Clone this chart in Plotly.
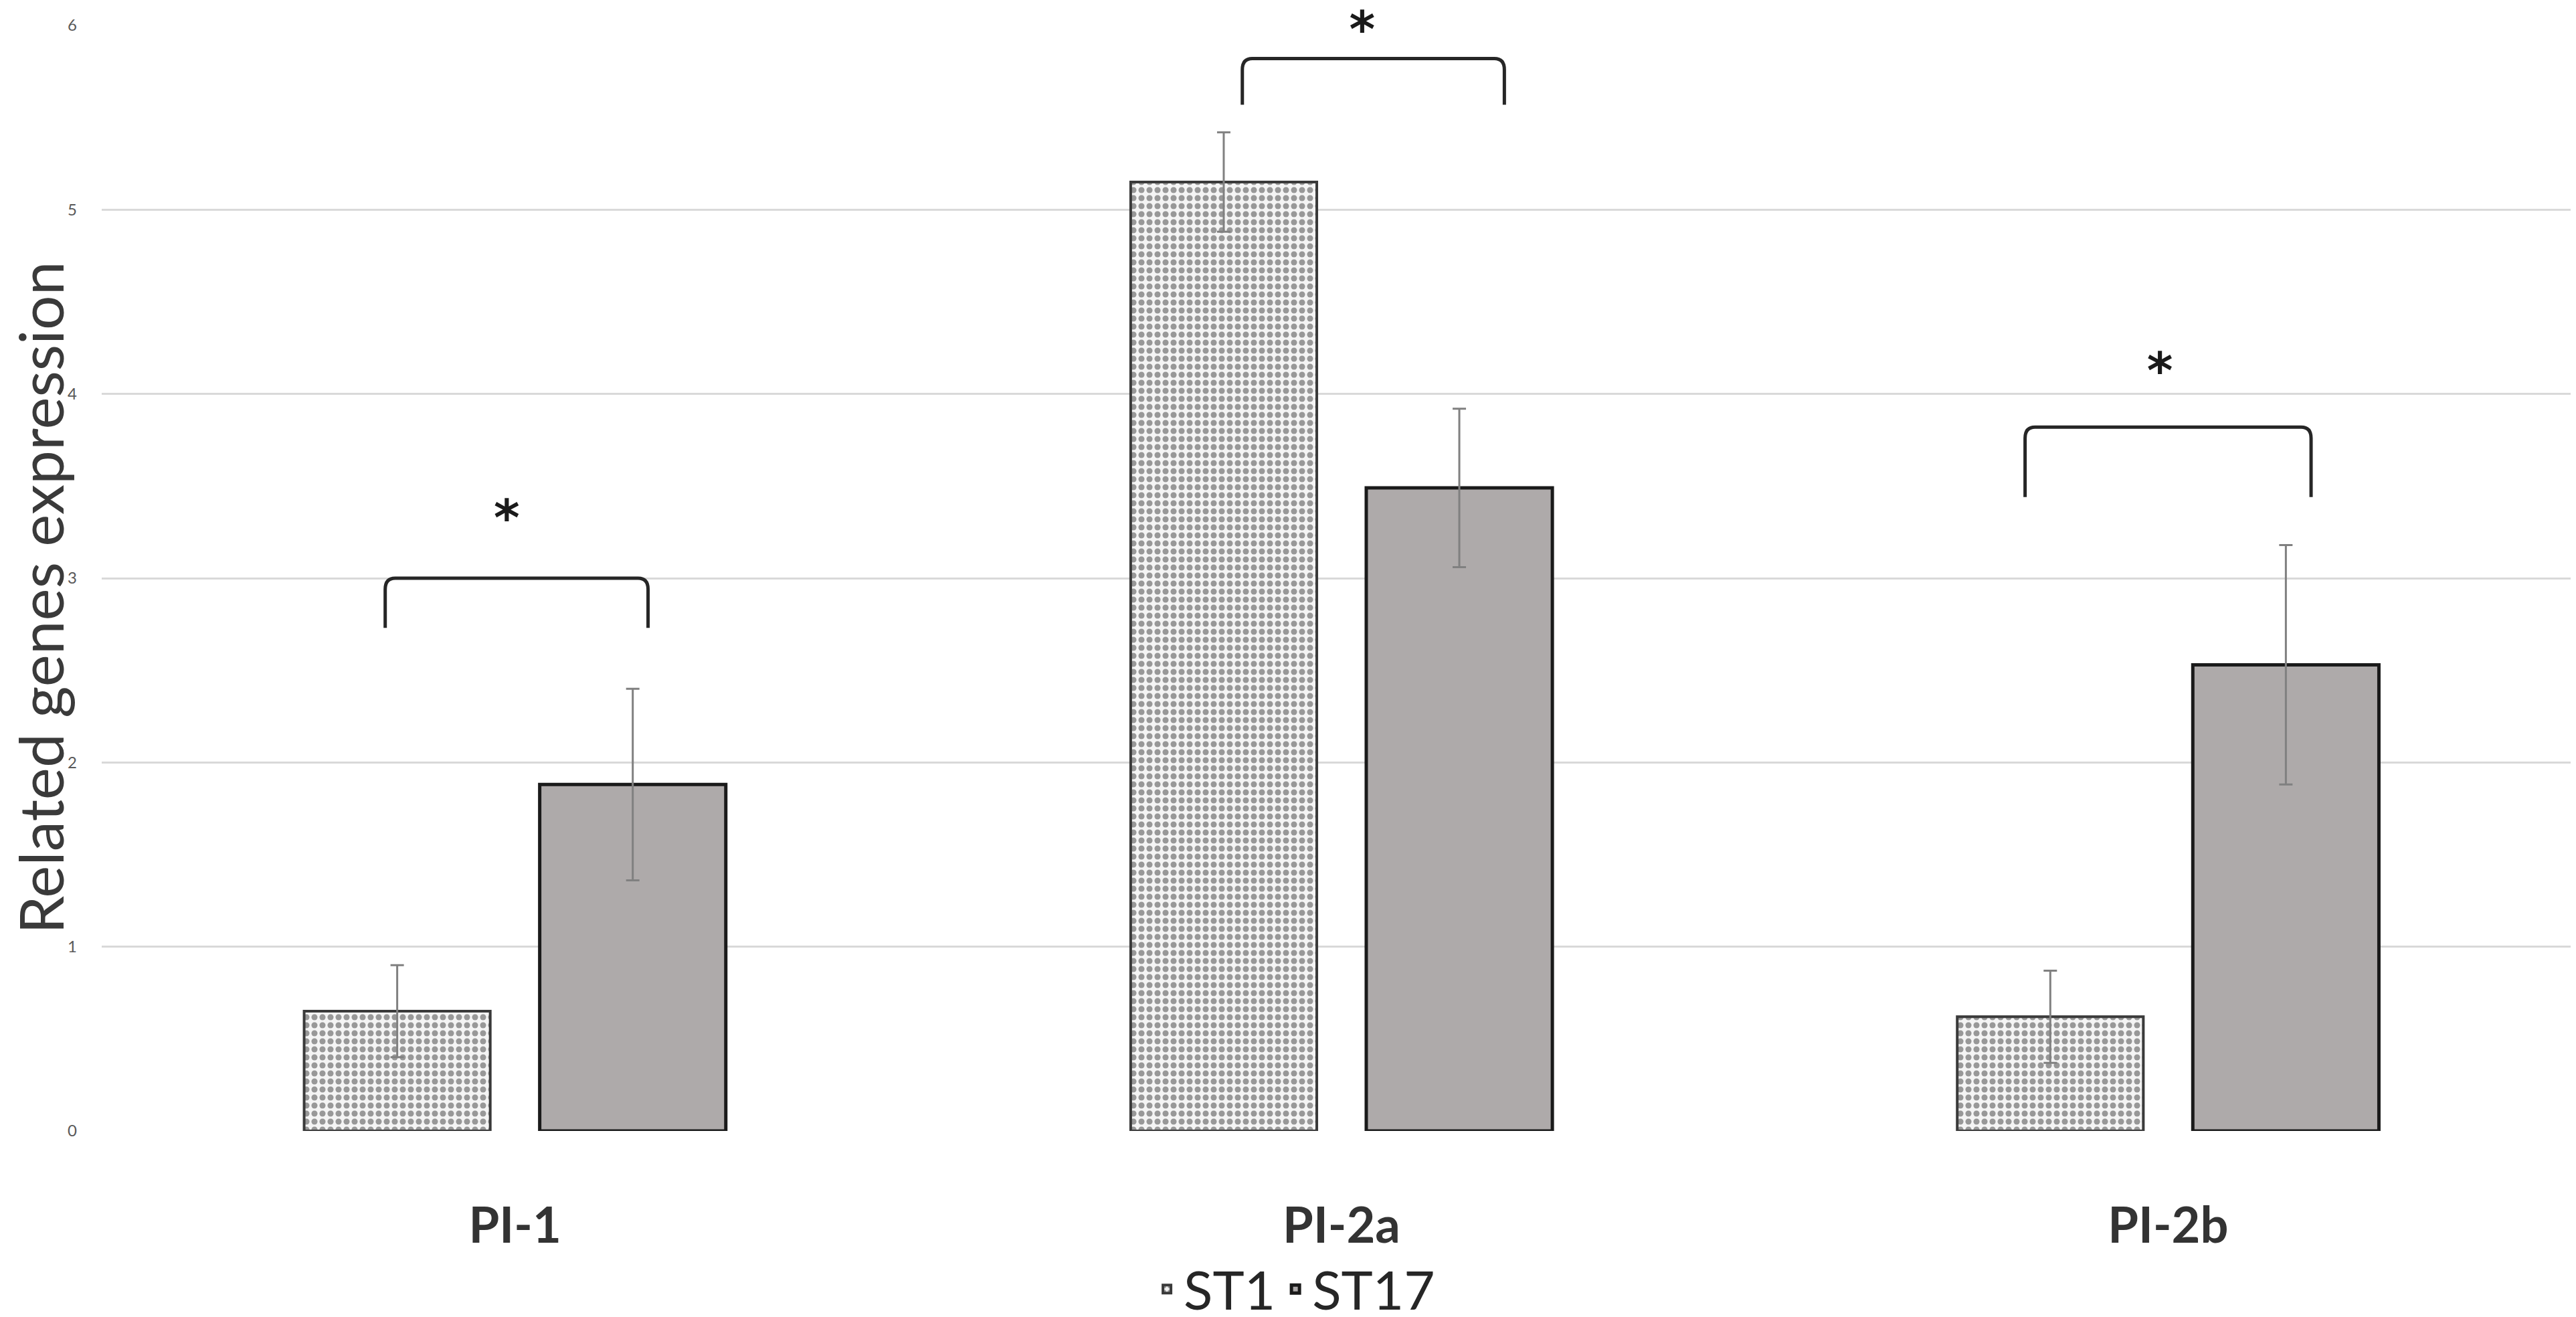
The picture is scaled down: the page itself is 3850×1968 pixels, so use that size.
import plotly.graph_objects as go

# dati
categorie = ["PI-1", "PI-2a", "PI-2b"]
pos = [0, 1, 2]
st1 = [0.65, 5.15, 0.62]
st1_err = [0.25, 0.27, 0.25]
st17 = [1.88, 3.49, 2.53]
st17_err = [0.52, 0.43, 0.65]

# parentesi di significativita'
br_sx = [-0.157, 0.88, 1.827]
br_dx = [0.161, 1.197, 2.173]
br_alto = [3.0, 5.82, 3.82]
br_basso = [2.73, 5.57, 3.44]
stella_x = [-0.01, 1.025, 1.99]
stella_y = [3.30, 5.95, 4.10]
stelle = ["*", "*", "*"]

fig = go.Figure()

fig.add_trace(go.Bar(
    x=pos, y=st1, name="ST1",
    marker=dict(color="white", line=dict(color="#3a3a3a", width=4),
                pattern=dict(shape=".", fgcolor="#3c3c3c", bgcolor="#f4f4f4",
                             size=12, solidity=0.45, fillmode="overlay")),
    error_y=dict(type="data", array=st1_err, color="#808080", thickness=3, width=10),
))
fig.add_trace(go.Bar(
    x=pos, y=st17, name="ST17",
    marker=dict(color="#aeaaaa", line=dict(color="#1a1a1a", width=5)),
    error_y=dict(type="data", array=st17_err, color="#808080", thickness=3, width=10),
))

# asterischi
fig.add_trace(go.Scatter(
    x=stella_x, y=stella_y, mode="text", text=stelle, textposition="middle center",
    textfont=dict(family="DejaVu Sans", size=74, color="#1a1a1a", weight="bold"),
    cliponaxis=False, showlegend=False, hoverinfo="skip",
))

rx, ry = 0.012, 0.06
for x0, x1, yt, yb in zip(br_sx, br_dx, br_alto, br_basso):
    path = (f"M {x0},{yb} L {x0},{yt-ry} Q {x0},{yt} {x0+rx},{yt} "
            f"L {x1-rx},{yt} Q {x1},{yt} {x1},{yt-ry} L {x1},{yb}")
    fig.add_shape(type="path", path=path, xref="x", yref="y",
                  line=dict(color="#262626", width=5))

fig.add_annotation(text="Related genes expression", xref="paper", yref="paper",
                   x=0, y=0.482, xshift=-92, textangle=-90, showarrow=False,
                   xanchor="center", yanchor="middle",
                   font=dict(family="Lato", size=91, color="#3a3a3a"))

fig.update_layout(
    width=3850, height=1968,
    margin=dict(l=144, r=0, t=30, b=286, autoexpand=False),
    plot_bgcolor="white", paper_bgcolor="white",
    barmode="group", bargap=0.43, bargroupgap=0.21,
    font=dict(family="Lato", color="#404040"),
    legend=dict(orientation="h", x=0.481, xanchor="center", y=-0.143, yref="paper",
                yanchor="middle", font=dict(size=80, color="#262626"), itemwidth=40),
    xaxis=dict(range=[-0.5, 2.5], tickvals=pos, ticktext=categorie, showgrid=False,
               zeroline=False, showline=False, ticklabelstandoff=92,
               tickfont=dict(family="Lato", size=74, color="#333333", weight="bold")),
    yaxis=dict(range=[0, 6], dtick=1, showgrid=True, gridcolor="#d9d9d9", gridwidth=3,
               zeroline=False, showline=False, ticklabelstandoff=36,
               tickfont=dict(size=24, color="#595959")),
)

fig.write_html("out.html")
